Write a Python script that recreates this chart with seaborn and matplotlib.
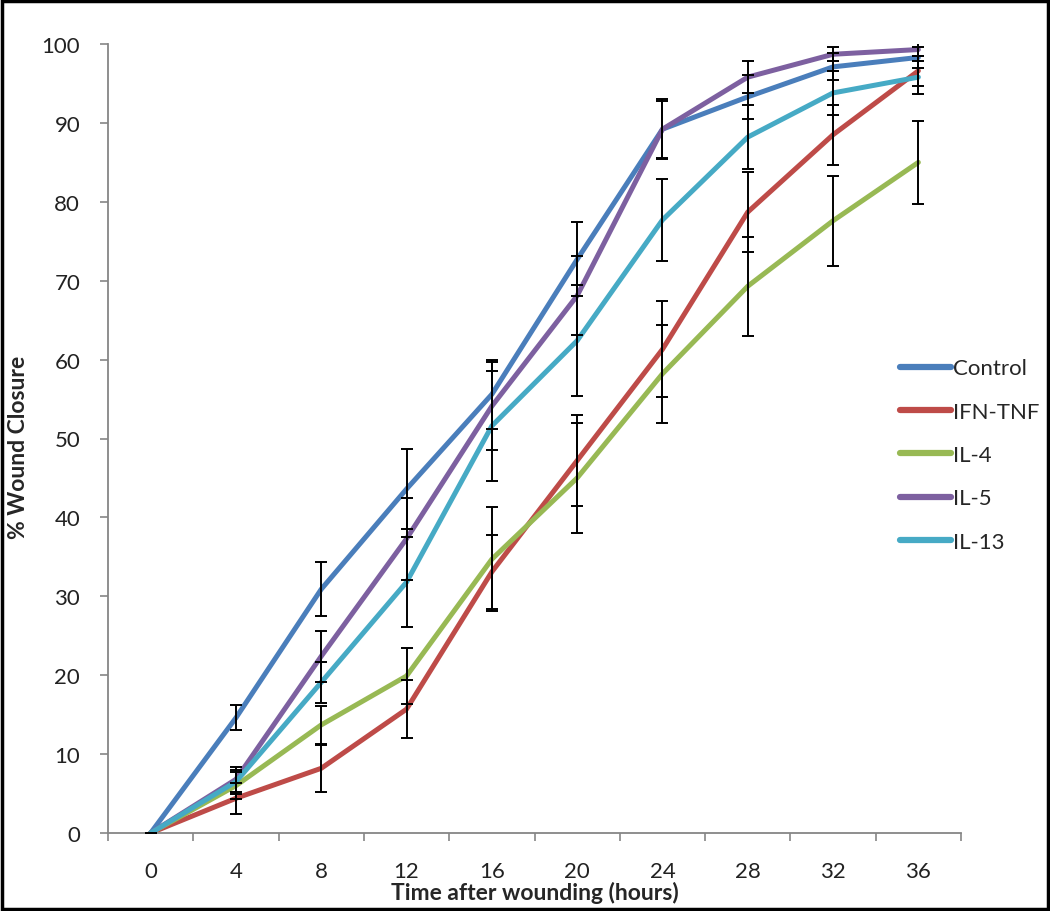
import numpy as np
import pandas as pd
import matplotlib
matplotlib.use("Agg")
import matplotlib.pyplot as plt
import seaborn as sns
from matplotlib.patches import Rectangle
from matplotlib.ticker import FixedLocator

hours = [0, 4, 8, 12, 16, 20, 24, 28, 32, 36]
series_names = ["Control", "IFN-TNF", "IL-4", "IL-5", "IL-13"]

control = [0, 14.6, 30.9, 43.6, 55.6, 72.7, 89.2, 93.3, 97.1, 98.3]
control_err = [0, 1.6, 3.4, 5.1, 4.4, 4.7, 3.6, 2.8, 1.7, 1.3]
ifn_tnf = [0, 4.4, 8.2, 15.7, 33.1, 47.2, 61.3, 78.7, 88.5, 96.6]
ifn_tnf_err = [0, 2.0, 3.0, 3.7, 4.7, 5.8, 6.1, 5.1, 3.8, 1.9]
il4 = [0, 6.0, 13.7, 19.9, 34.7, 45.0, 58.2, 69.3, 77.6, 85.0]
il4_err = [0, 1.7, 2.4, 3.6, 6.6, 7.0, 6.2, 6.3, 5.7, 5.3]
il5 = [0, 6.8, 22.4, 37.3, 54.1, 68.1, 89.2, 95.8, 98.7, 99.3]
il5_err = [0, 1.6, 3.2, 5.2, 5.6, 5.0, 3.8, 2.0, 0.9, 0.8]
il13 = [0, 6.5, 19.1, 31.8, 51.6, 62.4, 77.7, 88.2, 93.8, 95.8]
il13_err = [0, 1.5, 2.6, 5.7, 7.0, 7.0, 5.2, 4.1, 2.8, 2.1]

colors = ["#4A7EBB", "#BE4B48", "#98B954", "#7D60A0", "#46AAC5"]

values = [control, ifn_tnf, il4, il5, il13]
errors = [control_err, ifn_tnf_err, il4_err, il5_err, il13_err]

rows = []
for name, vals, errs in zip(series_names, values, errors):
    for h, v, e in zip(hours, vals, errs):
        rows.append({"hours": h, "closure": v, "err": e, "series": name})
df = pd.DataFrame(rows)

sns.set_style("white")
plt.rcParams["font.family"] = ["Lato", "DejaVu Sans"]

fig = plt.figure(figsize=(10.5, 9.12), dpi=100)
ax = fig.add_axes([108 / 1050, 78 / 912, 853 / 1050, 789 / 912])

sns.lineplot(data=df, x="hours", y="closure", hue="series",
             hue_order=series_names, palette=colors, linewidth=3.6,
             errorbar=None, ax=ax, sort=False)

for name in series_names:
    sub = df[df["series"] == name]
    ax.errorbar(sub["hours"], sub["closure"], yerr=sub["err"], fmt="none",
                ecolor="black", elinewidth=1.4, capsize=4.5, capthick=1.4,
                zorder=4)

ax.set_xlim(-2, 38)
ax.set_ylim(0, 100)
ax.set_yticks(np.arange(0, 101, 10))
ax.set_xticks(hours)
ax.set_xticklabels([str(h) for h in hours])
ax.xaxis.set_minor_locator(FixedLocator(np.arange(-2, 39, 4)))

ax.tick_params(axis="x", which="major", length=0, pad=20, labelsize=16,
               colors="#222222")
ax.tick_params(axis="x", which="minor", length=6, width=1.2,
               color="#868686", direction="out", bottom=True)
ax.tick_params(axis="y", which="major", length=6, width=1.2,
               color="#868686", direction="out", left=True, pad=14,
               labelsize=16, labelcolor="#222222")

for s in ["top", "right"]:
    ax.spines[s].set_visible(False)
for s in ["left", "bottom"]:
    ax.spines[s].set_color("#868686")
    ax.spines[s].set_linewidth(1.3)

ax.set_xlabel("Time after wounding (hours)", fontsize=16.5, fontweight="bold",
              va="center")
ax.set_ylabel("% Wound Closure", fontsize=16.5, fontweight="bold", va="center")
ax.xaxis.set_label_coords(0.5, -0.0748)
ax.yaxis.set_label_coords(-0.1055, 0.49)

leg = ax.legend(loc="center left", bbox_to_anchor=(900 / 1050, 456 / 912),
                bbox_transform=fig.transFigure, frameon=False, fontsize=16,
                handlelength=2.3, handletextpad=0.1, labelspacing=1.05,
                borderpad=0, borderaxespad=0)
for line in leg.get_lines():
    line.set_linewidth(4.5)

fig.patches.append(Rectangle((0.002, 0.002), 0.996, 0.996,
                             transform=fig.transFigure, fill=False,
                             edgecolor="black", linewidth=2.5))

fig.savefig("out.png", dpi=100)
